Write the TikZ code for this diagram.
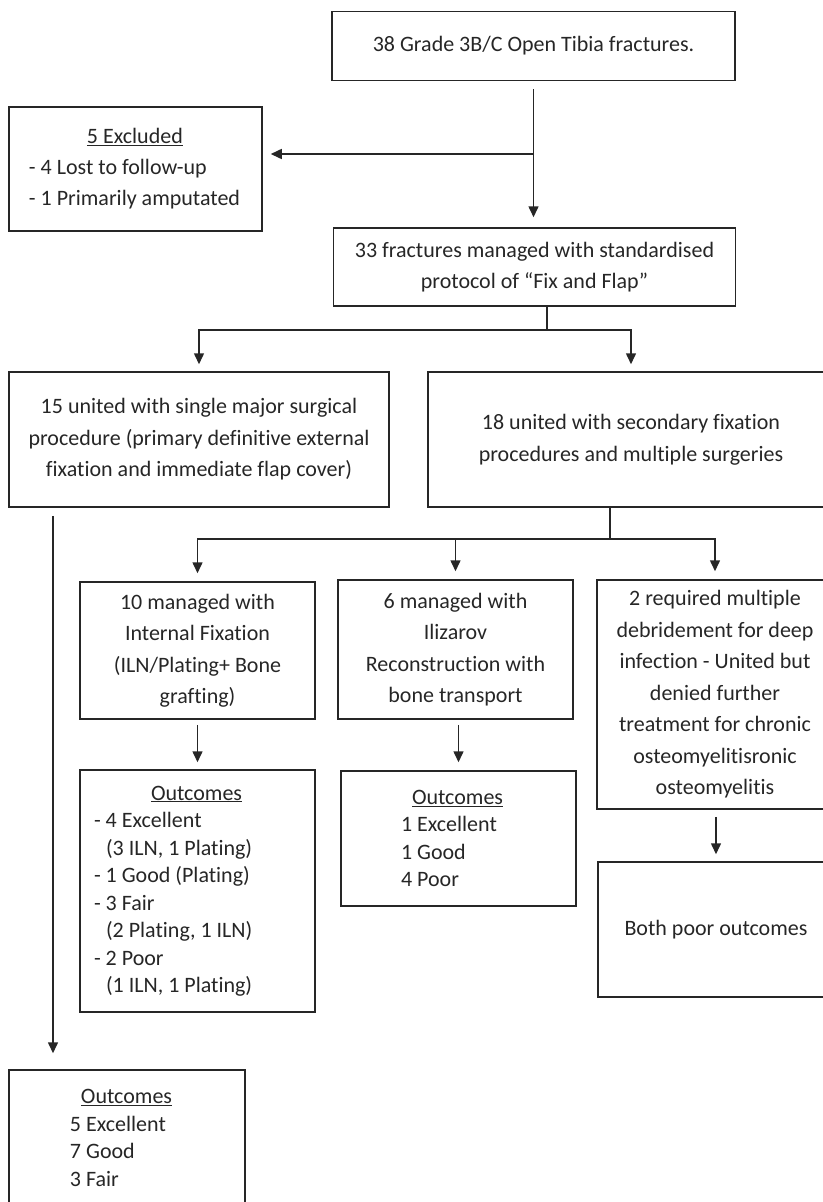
\documentclass[tikz,border=0pt]{standalone}
\usepackage{fontspec}
\setmainfont[Ligatures=NoCommon]{Carlito}
\usepackage{tikz}
\usetikzlibrary{positioning}
\usetikzlibrary{calc}
\usetikzlibrary{arrows.meta}
\definecolor{ink}{HTML}{262626}
\tikzset{
  box/.style={draw=ink, line width=1.5pt, text=ink, inner sep=0pt, align=center, font=\fontsize{22}{31.5}\selectfont},
  listbox/.style={box, align=flush left, font=\fontsize{22}{27.5}\selectfont},
  link/.style={draw=ink, line width=1.5pt},
  arr/.style={link, -{Triangle[length=11pt,width=10pt]}}
}

\begin{document}
\begin{tikzpicture}[x=1pt, y=-1pt]
\useasboundingbox (0,0) rectangle (822,1202);

\node[box, minimum width=403pt, minimum height=69pt] (total) at (533.5,46) {38 Grade 3B/C Open Tibia fractures.};
\node[listbox, text width=253pt, minimum height=124pt, font=\fontsize{22}{31}\selectfont] (excluded) at (135.5,169) {\hspace*{78pt}\underline{5 Excluded}\\ \hspace*{20pt}- 4 Lost to follow-up\\ \hspace*{20pt}- 1 Primarily amputated};
\node[box, minimum width=402pt, minimum height=78pt] (fixflap) at (534.5,267) {33 fractures managed with standardised\\ protocol of “Fix and Flap”};

\node[box, minimum width=380pt, minimum height=135pt] (single) at (199,439.5) {15 united with single major surgical\\ procedure (primary definitive external\\ fixation and immediate flap cover)};
\node[box, minimum width=406pt, minimum height=135pt] (multi) at (631,439.5) {18 united with secondary fixation\\ procedures and multiple surgeries};

\node[box, minimum width=235pt, minimum height=137pt] (internal) at (197.5,650.5) {10 managed with\\ Internal Fixation\\ (ILN/Plating+ Bone\\ grafting)};
\node[box, minimum width=235pt, minimum height=139pt] (ilizarov) at (455.5,649.5) {6 managed with\\ Ilizarov\\ Reconstruction with\\ bone transport};
\node[box, minimum width=236pt, minimum height=229pt] (infection) at (715,694.5) {2 required multiple\\ debridement for deep\\ infection - United but\\ denied further\\ treatment for chronic\\ osteomyelitisronic\\ osteomyelitis};

\node[listbox, text width=235pt, minimum height=242pt] (outint) at (197.5,891) {\hspace*{71pt}\underline{Outcomes}\\ \hspace*{14pt}- 4 Excellent\\ \hspace*{26pt}(3 ILN, 1 Plating)\\ \hspace*{14pt}- 1 Good (Plating)\\ \hspace*{14pt}- 3 Fair\\ \hspace*{26pt}(2 Plating, 1 ILN)\\ \hspace*{14pt}- 2 Poor\\ \hspace*{26pt}(1 ILN, 1 Plating)};
\node[listbox, text width=235pt, minimum height=135pt] (outiliz) at (458.5,838.5) {\hspace*{71pt}\underline{Outcomes}\\ \hspace*{60pt}1 Excellent\\ \hspace*{60pt}1 Good\\ \hspace*{60pt}4 Poor};
\node[box, minimum width=236pt, minimum height=135pt] (bothpoor) at (716,929.5) {Both poor outcomes};
\node[listbox, text width=236pt, minimum height=136pt] (outsingle) at (127,1138) {\hspace*{72pt}\underline{Outcomes}\\ \hspace*{61pt}5 Excellent\\ \hspace*{61pt}7 Good\\ \hspace*{61pt}3 Fair};

\coordinate (cut) at (533.5,154);
\coordinate (fork) at (547,330);
\coordinate (fork2) at (610,539);
\coordinate (drop) at (53,0);

\draw[arr, shorten <=8pt, shorten >=10pt] (total.south) -- (total.south |- fixflap.north);
\draw[arr, shorten >=8pt] (cut) -- (cut -| excluded.east);

\draw[link] (fork |- fixflap.south) -- (fork);
\draw[arr, shorten >=7pt] (fork) -| (single.north);
\draw[arr, shorten >=7pt] (fork) -| (multi.north);

\draw[link] (fork2 |- multi.south) -- (fork2);
\draw[arr, shorten >=8pt] (fork2) -| (internal.north);
\draw[arr, shorten >=8pt] (fork2) -| (ilizarov.north);
\draw[arr, shorten >=8pt] (fork2) -| (infection.north);

\draw[arr, shorten <=5pt, shorten >=7pt] (internal.south) -- (outint.north);
\draw[arr, shorten <=5pt, shorten >=8pt] (outiliz.north |- ilizarov.south) -- (outiliz.north);
\draw[arr, shorten <=7pt, shorten >=7pt] (bothpoor.north |- infection.south) -- (bothpoor.north);
\draw[arr, shorten <=8pt, shorten >=16pt] (drop |- single.south) -- (drop |- outsingle.north);
\end{tikzpicture}
\end{document}
